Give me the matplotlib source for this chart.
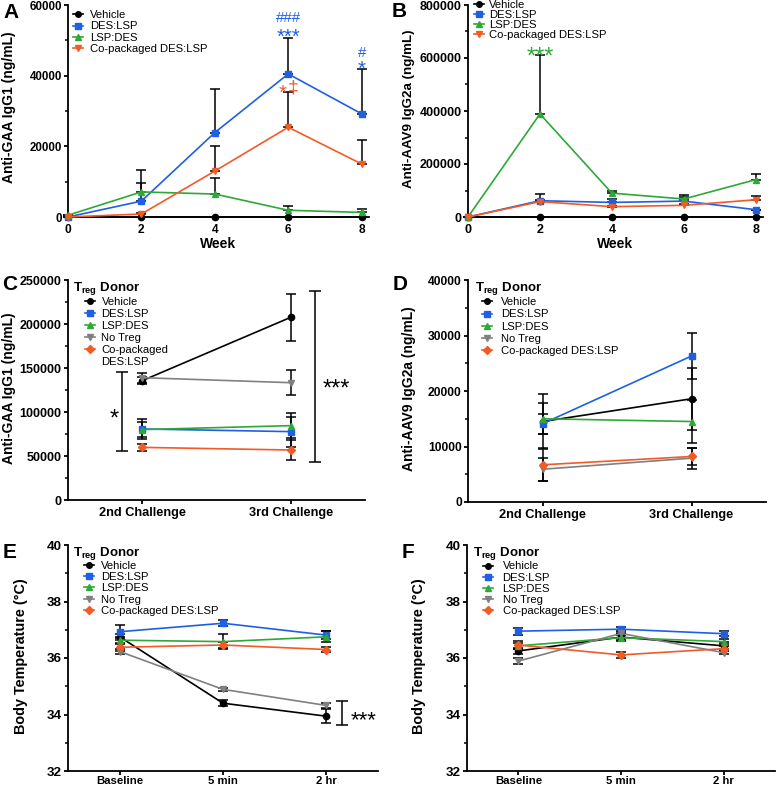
import numpy as np
import matplotlib
matplotlib.use("Agg")
import matplotlib.pyplot as plt
from matplotlib.ticker import MultipleLocator
from matplotlib.lines import Line2D

plt.rcParams['font.family'] = ['Liberation Sans', 'DejaVu Sans']
plt.rcParams['mathtext.fontset'] = 'custom'
plt.rcParams['mathtext.rm'] = 'Liberation Sans'
plt.rcParams['mathtext.bf'] = 'Liberation Sans:bold'

# ---------------- DATA ----------------
weeks = [0, 2, 4, 6, 8]
groups_ab = ["Vehicle", "DES:LSP", "LSP:DES", "Co-packaged DES:LSP"]

# Panel A: Anti-GAA IgG1 (ng/mL)
a_vehicle = [0, 0, 0, 0, 0]
a_vehicle_err = [0, 0, 0, 0, 0]
a_deslsp = [0, 4500, 23900, 40500, 29200]
a_deslsp_err = [0, 8900, 12300, 10300, 12600]
a_lspdes = [500, 7100, 6500, 1900, 1300]
a_lspdes_err = [0, 2500, 4500, 1300, 1100]
a_copack = [0, 850, 13000, 25400, 15000]
a_copack_err = [0, 300, 7200, 9900, 6900]

# Panel B: Anti-AAV9 IgG2a (ng/mL)
b_vehicle = [0, 0, 0, 0, 0]
b_vehicle_err = [0, 0, 0, 0, 0]
b_deslsp = [0, 61500, 55000, 60000, 27600]
b_deslsp_err = [0, 25500, 13000, 24000, 0]
b_lspdes = [0, 389000, 90000, 68000, 141000]
b_lspdes_err = [0, 223000, 10000, 6000, 21000]
b_copack = [0, 58000, 39000, 44000, 65000]
b_copack_err = [0, 5000, 4000, 4000, 13000]

challenges = ["2nd Challenge", "3rd Challenge"]
groups_cf = ["Vehicle", "DES:LSP", "LSP:DES", "No Treg", "Co-packaged DES:LSP"]

# Panel C: Anti-GAA IgG1 (ng/mL)
c_vehicle = [135600, 207600]
c_vehicle_err = [4000, 26500]
c_deslsp = [80700, 77700]
c_deslsp_err = [11000, 17000]
c_lspdes = [80000, 84500]
c_lspdes_err = [8300, 14000]
c_notreg = [139000, 133300]
c_notreg_err = [5700, 14000]
c_copack = [59800, 56800]
c_copack_err = [4300, 11300]

# Panel D: Anti-AAV9 IgG2a (ng/mL)
d_vehicle = [14500, 18600]
d_vehicle_err = [5000, 5600]
d_deslsp = [14100, 26300]
d_deslsp_err = [1800, 4200]
d_lspdes = [15000, 14500]
d_lspdes_err = [2800, 3900]
d_notreg = [5900, 7900]
d_notreg_err = [2100, 1900]
d_copack = [6700, 8200]
d_copack_err = [3000, 1600]

timepoints = ["Baseline", "5 min", "2 hr"]

# Panel E: Body temperature (°C)
e_vehicle = [36.75, 34.40, 33.94]
e_vehicle_err = [0.10, 0.10, 0.25]
e_deslsp = [36.93, 37.23, 36.81]
e_deslsp_err = [0.23, 0.10, 0.15]
e_lspdes = [36.63, 36.58, 36.75]
e_lspdes_err = [0.10, 0.26, 0.20]
e_notreg = [36.23, 34.89, 34.32]
e_notreg_err = [0.08, 0.05, 0.10]
e_copack = [36.38, 36.46, 36.30]
e_copack_err = [0.12, 0.12, 0.10]

# Panel F: Body temperature (°C)
f_vehicle = [36.25, 36.74, 36.43]
f_vehicle_err = [0.10, 0.10, 0.12]
f_deslsp = [36.95, 37.02, 36.86]
f_deslsp_err = [0.12, 0.06, 0.08]
f_lspdes = [36.43, 36.72, 36.58]
f_lspdes_err = [0.10, 0.12, 0.10]
f_notreg = [35.89, 36.87, 36.19]
f_notreg_err = [0.10, 0.06, 0.06]
f_copack = [36.46, 36.11, 36.33]
f_copack_err = [0.15, 0.12, 0.08]

# ---------------- STYLE ----------------
BLACK = "#000000"
BLUE = "#1f5fe6"
GREEN = "#2ea836"
GREY = "#808080"
ORANGE = "#f25a26"

col_ab = [BLACK, BLUE, GREEN, ORANGE]
mk_ab = ["o", "s", "^", "v"]
col_cf = [BLACK, BLUE, GREEN, GREY, ORANGE]
mk_cf = ["o", "s", "^", "v", "D"]

LEG_FS = 8.1
W, H = 777, 789

fig = plt.figure(figsize=(W / 100, H / 100), dpi=100)

def add_axes_px(left, right, top, bottom):
    return fig.add_axes([left / W, 1 - bottom / H, (right - left) / W,
                         (bottom - top) / H])

def style_axis(ax, ytick_fs, xtick_fs, xpad=2.0):
    for s in ["top", "right"]:
        ax.spines[s].set_visible(False)
    for s in ["left", "bottom"]:
        ax.spines[s].set_linewidth(1.3)
    ax.tick_params(which="major", direction="out", length=3, width=1.3,
                   pad=1.5)
    ax.tick_params(axis="y", labelsize=ytick_fs)
    ax.tick_params(axis="x", labelsize=xtick_fs, pad=xpad)
    ax.tick_params(which="minor", direction="out", length=2, width=1.1)
    ax.tick_params(axis="x", which="minor", bottom=False)
    for lab in ax.get_xticklabels() + ax.get_yticklabels():
        lab.set_fontweight("bold")

def set_ylabel(ax, text, fs, center_px, axis_left_px, axis_w_px, ypos=0.5):
    ax.set_ylabel(text, fontsize=fs, fontweight="bold", va="center")
    ax.yaxis.set_label_coords((center_px - axis_left_px) / axis_w_px, ypos)

def draw_series(ax, x, series, errs, colors, markers, labels, upper_only=False,
                ms=4.5):
    handles = []
    for y, e, c, m, lab in zip(series, errs, colors, markers, labels):
        e = np.asarray(e, dtype=float)
        yerr = [np.zeros_like(e), e] if upper_only else e
        ax.errorbar(x, y, yerr=yerr, fmt="none", ecolor="black",
                    elinewidth=1.1, capsize=3.8, capthick=1.1, clip_on=False,
                    zorder=2)
        h, = ax.plot(x, y, color=c, marker=m, ms=ms, lw=1.2, label=lab,
                     clip_on=False, zorder=3, mec=c)
        handles.append(h)
    return handles

def legend(ax, handles, labels, anchor, spacing, textpad):
    leg = ax.legend(handles, labels, loc="upper left", bbox_to_anchor=anchor,
                    frameon=False, fontsize=LEG_FS, handlelength=0.9,
                    handletextpad=textpad, labelspacing=spacing,
                    borderaxespad=0.0, borderpad=0.0)
    for h in leg.legend_handles:
        h.set_markersize(4)
    return leg

def title(ax, dx_px, dy_px):
    ax.annotate(r"$\mathbf{T_{reg}}$ Donor", xy=(0, 1), xycoords="axes fraction",
                xytext=(dx_px * 0.72, -dy_px * 0.72), textcoords="offset points",
                ha="left", va="center", fontsize=9.5, fontweight="bold")

def stars(ax, x, y, text, color, fs, center_frac=0.585):
    # place text so that the ink centre of the glyphs lands on (x, y)
    ax.annotate(text, xy=(x, y), xytext=(0, -center_frac * fs),
                textcoords="offset points", ha="center", va="baseline",
                color=color, fontsize=fs, annotation_clip=False)

# ---------- Panel A ----------
axA = add_axes_px(68, 369, 5, 217)
hA = draw_series(axA, weeks, [a_vehicle, a_deslsp, a_lspdes, a_copack],
                 [a_vehicle_err, a_deslsp_err, a_lspdes_err, a_copack_err],
                 col_ab, mk_ab, groups_ab, upper_only=True)
axA.set_xlim(0, 8.2)
axA.set_ylim(0, 60000)
axA.set_xticks(weeks)
axA.set_yticks([0, 20000, 40000, 60000])
axA.yaxis.set_minor_locator(MultipleLocator(10000))
axA.set_xlabel("Week", fontsize=10, fontweight="bold", labelpad=1)
set_ylabel(axA, "Anti-GAA IgG1 (ng/mL)", 10, 9, 68, 301, ypos=0.52)
style_axis(axA, 8.3, 8.6)
legend(axA, hA, groups_ab, anchor=(0.016, 0.976), spacing=0.12, textpad=0.6)
stars(axA, 6, 56700, "###", BLUE, 10.8, center_frac=0.355)
stars(axA, 6, 52600, "***", BLUE, 14.5)
stars(axA, 8, 46800, "#", BLUE, 10.8, center_frac=0.355)
stars(axA, 8, 43500, "*", BLUE, 14.5)
stars(axA, 5.85, 36700, "*", ORANGE, 14.5)
stars(axA, 6.13, 36700, "\u2021", ORANGE, 14, center_frac=0.27)

# ---------- Panel B ----------
axB = add_axes_px(468, 763, 5, 217)
hB = draw_series(axB, weeks, [b_vehicle, b_deslsp, b_lspdes, b_copack],
                 [b_vehicle_err, b_deslsp_err, b_lspdes_err, b_copack_err],
                 col_ab, mk_ab, groups_ab, upper_only=True)
axB.set_xlim(0, 8.2)
axB.set_ylim(0, 800000)
axB.set_xticks(weeks)
axB.set_yticks([0, 200000, 400000, 600000, 800000])
axB.yaxis.set_minor_locator(MultipleLocator(100000))
axB.set_xlabel("Week", fontsize=10, fontweight="bold", labelpad=1)
set_ylabel(axB, "Anti-AAV9 IgG2a (ng/mL)", 9.6, 409, 468, 295, ypos=0.51)
style_axis(axB, 9, 9)
legend(axB, hB, groups_ab, anchor=(0.021, 1.024), spacing=0.0, textpad=0.4)
stars(axB, 2, 633000, "***", GREEN, 17)

# ---------- Panel C ----------
xc = np.arange(len(challenges))
axC = add_axes_px(68, 365, 280, 500)
hC = draw_series(axC, xc, [c_vehicle, c_deslsp, c_lspdes, c_notreg, c_copack],
                 [c_vehicle_err, c_deslsp_err, c_lspdes_err, c_notreg_err,
                  c_copack_err], col_cf, mk_cf, groups_cf)
axC.set_xlim(-0.5, 1.5)
axC.set_ylim(0, 250000)
axC.set_xticks(xc)
axC.set_xticklabels(challenges)
axC.set_yticks([0, 50000, 100000, 150000, 200000, 250000])
axC.yaxis.set_minor_locator(MultipleLocator(25000))
set_ylabel(axC, "Anti-GAA IgG1 (ng/mL)", 10, 9, 68, 297, ypos=0.51)
style_axis(axC, 9, 9.2)
blank = Line2D([], [], linestyle="none", marker=None)
labels_c = ["Vehicle", "DES:LSP", "LSP:DES", "No Treg", "Co-packaged", "DES:LSP"]
legend(axC, hC + [blank], labels_c, anchor=(0.057, 0.921), spacing=0.17,
       textpad=0.57)
title(axC, 5, 8)
axC.errorbar([-0.135], [100750], yerr=[44750], fmt="none", ecolor="black",
             elinewidth=1.1, capsize=4, capthick=1.1)
stars(axC, -0.19, 100300, "*", BLACK, 17)
axC.errorbar([1.162], [140500], yerr=[97000], fmt="none", ecolor="black",
             elinewidth=1.1, capsize=4, capthick=1.1, clip_on=False)
stars(axC, 1.31, 134400, "***", BLACK, 17)

# ---------- Panel D ----------
axD = add_axes_px(468, 766, 280, 502)
hD = draw_series(axD, xc, [d_vehicle, d_deslsp, d_lspdes, d_notreg, d_copack],
                 [d_vehicle_err, d_deslsp_err, d_lspdes_err, d_notreg_err,
                  d_copack_err], col_cf, mk_cf, groups_cf)
axD.set_xlim(-0.5, 1.5)
axD.set_ylim(0, 40000)
axD.set_xticks(xc)
axD.set_xticklabels(challenges)
axD.set_yticks([0, 10000, 20000, 30000, 40000])
axD.yaxis.set_minor_locator(MultipleLocator(5000))
set_ylabel(axD, "Anti-AAV9 IgG2a (ng/mL)", 10, 409, 468, 298, ypos=0.51)
style_axis(axD, 8.7, 9.2)
legend(axD, hD, groups_cf, anchor=(0.048, 0.922), spacing=0.19, textpad=0.8)
title(axD, 7, 8.3)

# ---------- Panel E ----------
xt = np.arange(len(timepoints))
axE = add_axes_px(68, 378, 545, 771)
hE = draw_series(axE, xt, [e_vehicle, e_deslsp, e_lspdes, e_notreg, e_copack],
                 [e_vehicle_err, e_deslsp_err, e_lspdes_err, e_notreg_err,
                  e_copack_err], col_cf, mk_cf, groups_cf)
axE.set_xlim(-0.5, 2.5)
axE.set_ylim(32, 40)
axE.set_xticks(xt)
axE.set_xticklabels(timepoints)
axE.set_yticks([32, 34, 36, 38, 40])
axE.yaxis.set_minor_locator(MultipleLocator(1))
set_ylabel(axE, "Body Temperature (\u00b0C)", 10.4, 21, 68, 310, ypos=0.51)
style_axis(axE, 9.7, 8.2, xpad=0.8)
legend(axE, hE, groups_cf, anchor=(0.052, 0.930), spacing=0.11, textpad=0.63)
title(axE, 5, 8)
axE.errorbar([2.147], [34.065], yerr=[0.425], fmt="none", ecolor="black",
             elinewidth=1.1, capsize=4, capthick=1.1)
stars(axE, 2.36, 34.03, "***", BLACK, 16)

# ---------- Panel F ----------
axF = add_axes_px(467, 775, 545, 771)
hF = draw_series(axF, xt, [f_vehicle, f_deslsp, f_lspdes, f_notreg, f_copack],
                 [f_vehicle_err, f_deslsp_err, f_lspdes_err, f_notreg_err,
                  f_copack_err], col_cf, mk_cf, groups_cf)
axF.set_xlim(-0.5, 2.5)
axF.set_ylim(32, 40)
axF.set_xticks(xt)
axF.set_xticklabels(timepoints)
axF.set_yticks([32, 34, 36, 38, 40])
axF.yaxis.set_minor_locator(MultipleLocator(1))
set_ylabel(axF, "Body Temperature (\u00b0C)", 10.4, 419, 467, 308, ypos=0.51)
style_axis(axF, 9.7, 8.2, xpad=0.8)
legend(axF, hF, groups_cf, anchor=(0.051, 0.927), spacing=0.10, textpad=0.86)
title(axF, 6, 8.3)

# Panel letters (x, baseline y in pixels)
for letter, (x, y) in zip("ABCDEF", [(3, 18), (392, 17), (2, 290), (393, 290),
                                    (3, 558), (402, 558)]):
    fig.text(x / W, 1 - y / H, letter, fontsize=15, fontweight="bold",
             ha="left", va="baseline")

fig.savefig("out.png", dpi=100)
